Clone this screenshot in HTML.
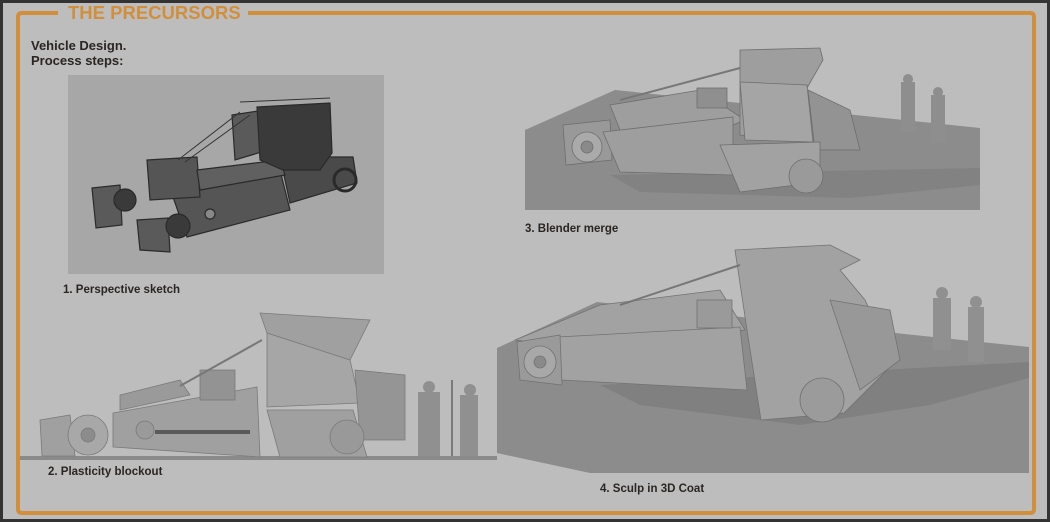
<!DOCTYPE html>
<html><head><meta charset="utf-8"><style>
html,body{margin:0;padding:0;background:#2e2e2e;}
.wrap{position:relative;width:1050px;height:522px;overflow:hidden;background:#bdbdbd;box-shadow:inset 0 0 0 3px #333;}
svg{position:absolute;left:0;top:0;}
.t{font-family:"Liberation Sans",sans-serif;font-weight:bold;fill:#2a2522;}
</style></head><body><div class="wrap">
<svg width="1050" height="522" viewBox="0 0 1050 522">
<path d="M58 13 H22 Q18 13 18 17 V509 Q18 513 22 513 H1030 Q1034 513 1034 509 V17 Q1034 13 1030 13 H248" fill="none" stroke="#d18f3c" stroke-width="4"/>
<text x="68" y="19" font-family="Liberation Sans,sans-serif" font-weight="bold" font-size="18.5" fill="#d18f3c">THE PRECURSORS</text>
<text class="t" x="31" y="50" font-size="13">Vehicle Design.</text>
<text class="t" x="31" y="65" font-size="13">Process steps:</text>

<!-- panel 1 sketch -->
<rect x="68" y="75" width="316" height="199" fill="#a7a7a7"/>
<g fill="#4a4a4a" stroke="#2a2a2a" stroke-width="1.2">
<polygon points="280,157 353,157 357,183 290,203"/>
<circle cx="345" cy="180" r="11" fill="none" stroke-width="3"/>
<polygon points="173,197 280,170 290,210 187,237" fill="#555"/>
<polygon points="147,160 197,157 200,197 150,200" fill="#555"/>
<polygon points="197,170 280,160 285,175 200,190" fill="#606060"/>
<polygon points="232,115 265,110 268,150 235,160" fill="#5a5a5a"/>
<polygon points="257,107 330,103 332,153 320,170 283,170 260,160" fill="#3a3a3a"/>
<polygon points="92,188 120,185 122,225 96,228" fill="#5a5a5a"/>
<polygon points="137,220 168,218 170,252 140,250" fill="#5a5a5a"/>
<circle cx="125" cy="200" r="11" fill="#3a3a3a"/>
<circle cx="178" cy="226" r="12" fill="#3a3a3a"/>
<circle cx="210" cy="214" r="5" fill="#888"/>
</g>
<g stroke="#333" stroke-width="1" fill="none">
<path d="M178 160 L240 112 M185 162 L250 115 M240 102 L330 98"/>
</g>
<text class="t" x="63" y="293" font-size="11.5">1. Perspective sketch</text>

<!-- panel 3 blender -->
<polygon points="525,130 615,90 980,128 980,210 525,210" fill="#8c8c8c"/>
<polygon points="610,175 980,168 980,185 850,198 640,192" fill="#828282"/>
<g fill="#9e9e9e" stroke="#6e6e6e" stroke-width="0.8">
<polygon points="610,105 700,90 745,120 733,125 620,130"/>
<polygon points="563,125 610,120 612,160 566,165" fill="#999"/>
<polygon points="603,132 733,117 733,175 620,172"/>
<polygon points="740,50 820,48 823,60 807,88 808,140 740,135"/>
<polygon points="740,82 807,85 813,142 745,140" fill="#a5a5a5"/>
<polygon points="808,90 850,110 860,150 815,150" fill="#939393"/>
<polygon points="720,145 820,142 820,182 740,192" fill="#a2a2a2"/>
<circle cx="587" cy="147" r="15" fill="#aaa"/>
<circle cx="587" cy="147" r="6" fill="#8a8a8a"/>
<circle cx="806" cy="176" r="17" fill="#9a9a9a"/>
<rect x="697" y="88" width="30" height="20" fill="#8f8f8f"/>
</g>
<path d="M620 100 L740 68" stroke="#777" stroke-width="2"/>
<g fill="#8e8e8e">
<rect x="901" y="82" width="14" height="50"/><circle cx="908" cy="79" r="5"/>
<rect x="931" y="95" width="14" height="48"/><circle cx="938" cy="92" r="5"/>
</g>
<text class="t" x="525" y="232" font-size="11.5">3. Blender merge</text>

<!-- panel 2 plasticity -->
<rect x="20" y="456" width="477" height="4" fill="#8a8a8a"/>
<g fill="#a0a0a0" stroke="#7a7a7a" stroke-width="0.8">
<polygon points="40,420 70,415 75,456 42,456"/>
<polygon points="113,413 257,387 260,457 113,447"/>
<polygon points="120,395 180,380 190,395 120,410" fill="#9a9a9a"/>
<polygon points="260,313 370,320 350,360 267,333"/>
<polygon points="267,333 350,360 360,403 267,407" fill="#a6a6a6"/>
<polygon points="267,410 353,410 367,457 280,457"/>
<polygon points="355,370 405,375 405,440 360,440" fill="#959595"/>
<rect x="200" y="370" width="35" height="30" fill="#939393"/>
<circle cx="88" cy="435" r="20" fill="#a8a8a8"/>
<circle cx="88" cy="435" r="7" fill="#8c8c8c"/>
<circle cx="347" cy="437" r="17" fill="#999"/>
<circle cx="145" cy="430" r="9" fill="#9a9a9a"/>
</g>
<path d="M180 386 L262 340" stroke="#777" stroke-width="2"/>
<rect x="155" y="430" width="95" height="4" fill="#5a5a5a"/>
<g fill="#909090">
<rect x="418" y="392" width="22" height="64"/><circle cx="429" cy="387" r="6"/>
<rect x="460" y="395" width="18" height="61"/><circle cx="470" cy="390" r="6"/>
</g>
<rect x="451" y="380" width="2" height="76" fill="#7a7a7a"/>
<text class="t" x="48" y="475" font-size="11.5">2. Plasticity blockout</text>

<!-- panel 4 sculpt -->
<polygon points="497,348 597,302 1029,347 1029,473 590,473 497,453" fill="#8c8c8c"/>
<polygon points="600,385 1029,362 1029,378 930,405 800,425 640,405" fill="#808080"/>
<g fill="#a2a2a2" stroke="#727272" stroke-width="0.8">
<polygon points="515,340 600,305 720,290 745,330 560,345"/>
<polygon points="558,337 740,327 747,390 561,380"/>
<polygon points="735,250 830,245 860,260 840,270 865,300 894,363 844,413 761,420 747,330"/>
<polygon points="830,300 890,310 900,360 860,390" fill="#989898"/>
<polygon points="517,342 560,335 562,385 520,380" fill="#9a9a9a"/>
<circle cx="540" cy="362" r="16" fill="#a8a8a8"/>
<circle cx="540" cy="362" r="6" fill="#8a8a8a"/>
<circle cx="822" cy="400" r="22" fill="#9b9b9b"/>
<rect x="697" y="300" width="35" height="28" fill="#9a9a9a"/>
</g>
<path d="M620 305 L740 265" stroke="#777" stroke-width="2"/>
<g fill="#909090">
<rect x="933" y="298" width="18" height="52"/><circle cx="942" cy="293" r="6"/>
<rect x="968" y="307" width="16" height="55"/><circle cx="976" cy="302" r="6"/>
</g>
<text class="t" x="600" y="492" font-size="11.5">4. Sculp in 3D Coat</text>
</svg>
</div></body></html>
